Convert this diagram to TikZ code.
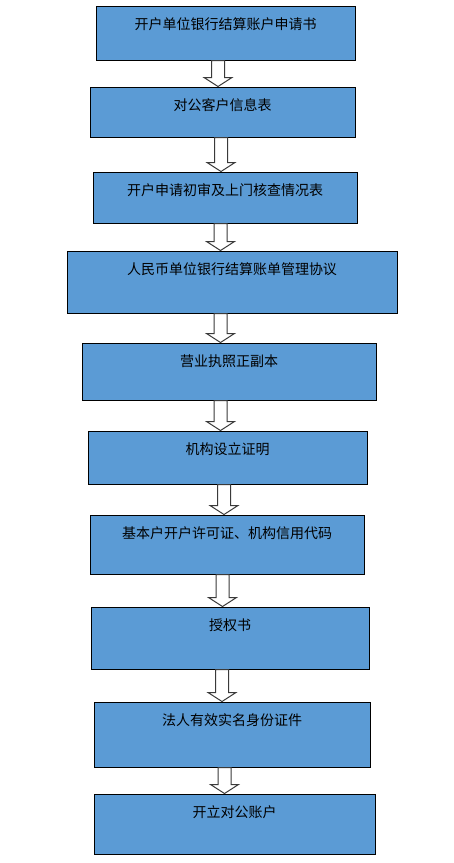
\documentclass[tikz,border=0pt]{standalone}
\usepackage{fontspec}
\newfontfamily\cjk{Noto Sans CJK SC}
\usetikzlibrary{calc}
\definecolor{boxblue}{HTML}{5B9BD5}
\definecolor{arrline}{HTML}{3A3A3A}
\tikzset{
  box/.style={draw=black, line width=1pt, fill=boxblue, inner sep=0pt},
  lbl/.style={font=\cjk\fontsize{14}{14}\selectfont, text=black, inner sep=0pt, anchor=base},
  barrow/.style={draw=arrline, fill=white, line width=1pt, line join=miter},
}
\newcommand\bx[6]{%
  \node[box, minimum width={(#4-#2)*1pt}, minimum height={(#5-#3)*1pt}] (#1) at ({(#2+#4)/2},{(#3+#5)/2}) {};
  \node[lbl] (#1t) at ({(#2+#4)/2},{#3+23}) {#6};
}
\newcommand\barr[3]{%
  \draw[barrow] let \p1=(#1.south), \p2=(#2.north) in
    ({#3pt-6.5pt},\y1) -- ({#3pt+6.5pt},\y1) -- ({#3pt+6.5pt},{\y2+9pt}) -- ({#3pt+14pt},{\y2+9pt})
    -- (#3pt,\y2) -- ({#3pt-14pt},{\y2+9pt}) -- ({#3pt-6.5pt},{\y2+9pt}) -- cycle;
}
\begin{document}
\begin{tikzpicture}[x=1pt,y=-1pt]
\useasboundingbox (0,0) rectangle (453,863);
\fill[white] (0,0) rectangle (453,863);
\bx{b1}{96}{6}{355}{60}{开户单位银行结算账户申请书}
\bx{b2}{90}{87}{355}{137}{对公客户信息表}
\bx{b3}{93}{172}{357}{223}{开户申请初审及上门核查情况表}
\bx{b4}{67}{251}{397}{313}{人民币单位银行结算账单管理协议}
\bx{b5}{82}{343}{376}{400}{营业执照正副本}
\bx{b6}{88}{431}{367}{484}{机构设立证明}
\bx{b7}{90}{515}{364}{574}{基本户开户许可证、机构信用代码}
\bx{b8}{91}{607}{369}{669}{授权书}
\bx{b9}{94}{702}{370}{767}{法人有效实名身份证件}
\bx{b10}{94}{794}{375}{854}{开立对公账户}
\barr{b1}{b2}{218}
\barr{b2}{b3}{221}
\barr{b3}{b4}{220.5}
\barr{b4}{b5}{220.5}
\barr{b5}{b6}{220.5}
\barr{b6}{b7}{224}
\barr{b7}{b8}{222.5}
\barr{b8}{b9}{222}
\barr{b9}{b10}{224.5}
\end{tikzpicture}
\end{document}
